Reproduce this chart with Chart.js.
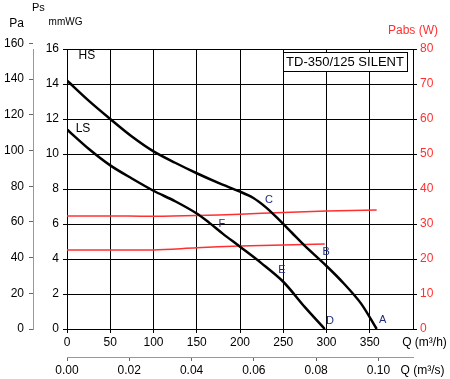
<!DOCTYPE html>
<html><head><meta charset="utf-8">
<script src="https://cdn.jsdelivr.net/npm/chart.js@4.4.1/dist/chart.umd.min.js"></script>
<style>html,body{margin:0;padding:0;background:#fff;}#wrap{width:450px;height:379px;}</style>
</head><body><div id="wrap"><canvas id="c" width="450" height="379"></canvas></div>
<script>
// ---- data ----
const flowTicks = [0, 50, 100, 150, 200, 250, 300, 350];
const flowSecTicks = [0.00, 0.02, 0.04, 0.06, 0.08, 0.10];
const mmTicks = [0, 2, 4, 6, 8, 10, 12, 14, 16];
const paTicks = [0, 20, 40, 60, 80, 100, 120, 140, 160];
const wTicks = [0, 10, 20, 30, 40, 50, 60, 70, 80];

const hsQ = [0, 25, 50, 75, 100, 125, 150, 175, 200, 215, 230, 245, 260, 275, 300, 320, 340, 358];
const hsP = [14.2, 13.05, 12.0, 11.0, 10.15, 9.5, 8.9, 8.35, 7.85, 7.5, 6.95, 6.25, 5.5, 4.75, 3.6, 2.6, 1.45, 0];
const lsQ = [0, 25, 50, 75, 100, 125, 150, 165, 180, 200, 225, 250, 275, 298];
const lsP = [11.4, 10.3, 9.35, 8.6, 7.9, 7.3, 6.6, 6.05, 5.45, 4.7, 3.75, 2.7, 1.25, 0];

const pabsHsQ = [0, 50, 100, 150, 200, 250, 300, 358];
const pabsHsW = [32.3, 32.3, 32.2, 32.4, 32.8, 33.3, 33.7, 34.0];
const pabsLsQ = [0, 50, 100, 150, 200, 250, 298];
const pabsLsW = [22.6, 22.6, 22.6, 23.2, 23.7, 24.0, 24.3];

const curveLabels = ['HS', 'LS'];
const curveLabelQ = [23, 18.5];
const curveLabelP = [15.6, 11.43];
const pointLabels = ['A', 'B', 'C', 'D', 'E', 'F'];
const pointLabelQ = [365, 299.5, 233.5, 304, 248.5, 179];
const pointLabelP = [0.5, 4.4, 7.37, 0.46, 3.37, 6.0];
const modelName = 'TD-350/125 SILENT';

const PA_PER_MM = 9.80665;
const FONT = '"Liberation Sans", Arial, sans-serif';
const RED = '#ff3030';

const pts = (xs, ys) => xs.map((x, i) => ({x: x, y: ys[i]}));

const textPlugin = {
  id: 'texts',
  afterDraw(chart) {
    const ctx = chart.ctx, a = chart.chartArea, sx = chart.scales.x, sy = chart.scales.y;
    const pa = chart.scales.yPa;
    ctx.save();
    ctx.textBaseline = 'middle';
    // curve labels
    ctx.fillStyle = '#000';
    ctx.font = '12px ' + FONT;
    ctx.textAlign = 'center';
    curveLabels.forEach((t, i) => ctx.fillText(t, sx.getPixelForValue(curveLabelQ[i]), sy.getPixelForValue(curveLabelP[i])));
    ctx.fillStyle = '#1c2a80';
    ctx.font = '11px ' + FONT;
    pointLabels.forEach((t, i) => ctx.fillText(t, sx.getPixelForValue(pointLabelQ[i]), sy.getPixelForValue(pointLabelP[i])));
    // model box
    ctx.font = '13px ' + FONT;
    const w = 124, h = 19;
    const bx = a.right - 6 - w, by = a.top + 3;
    ctx.fillStyle = '#fff';
    ctx.fillRect(bx, by, w, h);
    ctx.strokeStyle = '#000'; ctx.lineWidth = 1;
    ctx.strokeRect(Math.round(bx) + 0.5, Math.round(by) + 0.5, w, h);
    ctx.fillStyle = '#000';
    ctx.fillText(modelName, bx + w / 2, by + h / 2 + 1);
    // axis titles
    ctx.font = '11px ' + FONT;
    ctx.textAlign = 'left';
    ctx.fillText('Ps', pa.right - 1, 8);
    ctx.font = '12px ' + FONT;
    ctx.textAlign = 'right';
    ctx.fillText('Pa', pa.right - 9, 24);
    ctx.font = '10px ' + FONT;
    ctx.textAlign = 'center';
    ctx.fillText('mmWG', a.left - 1.5, 22);
    ctx.font = '12px ' + FONT;
    ctx.fillStyle = RED;
    ctx.fillText('Pabs (W)', a.right, 31);
    ctx.restore();
  }
};

const hideBeyond = (limit, col) => (c) => (c.tick && c.tick.value > limit) ? 'rgba(0,0,0,0)' : col;

new Chart(document.getElementById('c'), {
  type: 'scatter',
  data: {
    datasets: [
      {data: pts(hsQ, hsP), yAxisID: 'y', xAxisID: 'x', showLine: true, borderColor: '#000', borderWidth: 2.5, pointRadius: 0, tension: 0.3, fill: false},
      {data: pts(lsQ, lsP), yAxisID: 'y', xAxisID: 'x', showLine: true, borderColor: '#000', borderWidth: 2.5, pointRadius: 0, tension: 0.3, fill: false},
      {data: pts(pabsHsQ, pabsHsW), yAxisID: 'yW', xAxisID: 'x', showLine: true, borderColor: RED, borderWidth: 1.5, pointRadius: 0, tension: 0.3, fill: false},
      {data: pts(pabsLsQ, pabsLsW), yAxisID: 'yW', xAxisID: 'x', showLine: true, borderColor: RED, borderWidth: 1.5, pointRadius: 0, tension: 0.3, fill: false}
    ]
  },
  options: {
    responsive: false,
    devicePixelRatio: 1,
    animation: false,
    layout: {padding: {top: 49, left: 0, right: 0, bottom: 0}},
    plugins: {legend: {display: false}, tooltip: {enabled: false}},
    scales: {
      x: {
        type: 'linear', position: 'bottom', weight: 0, min: 0, max: 400,
        afterBuildTicks: s => { s.ticks = flowTicks.map(v => ({value: v})).concat([{value: 413.3}]); },
        afterFit: s => { s.height = 28; s.paddingLeft = 0; s.paddingRight = 0; },
        grid: {color: hideBeyond(400, '#000'), lineWidth: 1, tickLength: 4},
        border: {color: '#000', width: 1},
        ticks: {color: '#000', font: {family: FONT, size: 12}, padding: 2, autoSkip: false, maxRotation: 0,
          callback: v => v > 400 ? 'Q (m³/h)' : String(v)}
      },
      x2: {
        type: 'linear', position: 'bottom', weight: 1, min: 0, max: 400 / 3600,
        afterBuildTicks: s => { s.ticks = flowSecTicks.map(v => ({value: v})).concat([{value: 0.11416}]); },
        afterFit: s => { s.height = 22; s.paddingLeft = 0; s.paddingRight = 0; },
        grid: {drawOnChartArea: false, color: hideBeyond(0.105, '#666'), tickLength: 4},
        border: {color: '#999', width: 1},
        ticks: {color: '#000', font: {family: FONT, size: 12}, padding: 2, autoSkip: false, maxRotation: 0,
          callback: v => v > 0.105 ? 'Q (m³/s)' : v.toFixed(2)}
      },
      y: {
        type: 'linear', position: 'left', weight: 0, min: 0, max: 16,
        afterBuildTicks: s => { s.ticks = mmTicks.map(v => ({value: v})); },
        afterFit: s => { s.width = 34; },
        grid: {color: '#000', lineWidth: 1, tickLength: 4},
        border: {color: '#000', width: 1},
        ticks: {color: '#000', font: {family: FONT, size: 12}, padding: 4}
      },
      yPa: {
        type: 'linear', position: 'left', weight: 1, min: 0, max: 16 * PA_PER_MM,
        afterBuildTicks: s => { s.ticks = paTicks.map(v => ({value: v})); },
        afterFit: s => { s.width = 33; },
        grid: {drawOnChartArea: false, color: '#666', tickLength: 4},
        border: {color: '#999', width: 1},
        ticks: {color: '#000', font: {family: FONT, size: 12}, padding: 5}
      },
      yW: {
        type: 'linear', position: 'right', min: 0, max: 80,
        afterBuildTicks: s => { s.ticks = wTicks.map(v => ({value: v})); },
        afterFit: s => { s.width = 37; },
        grid: {drawOnChartArea: false, color: '#000', tickLength: 4},
        border: {color: '#000', width: 1},
        ticks: {color: RED, font: {family: FONT, size: 12}, padding: 3}
      }
    }
  },
  plugins: [textPlugin]
});
</script>
</body></html>
